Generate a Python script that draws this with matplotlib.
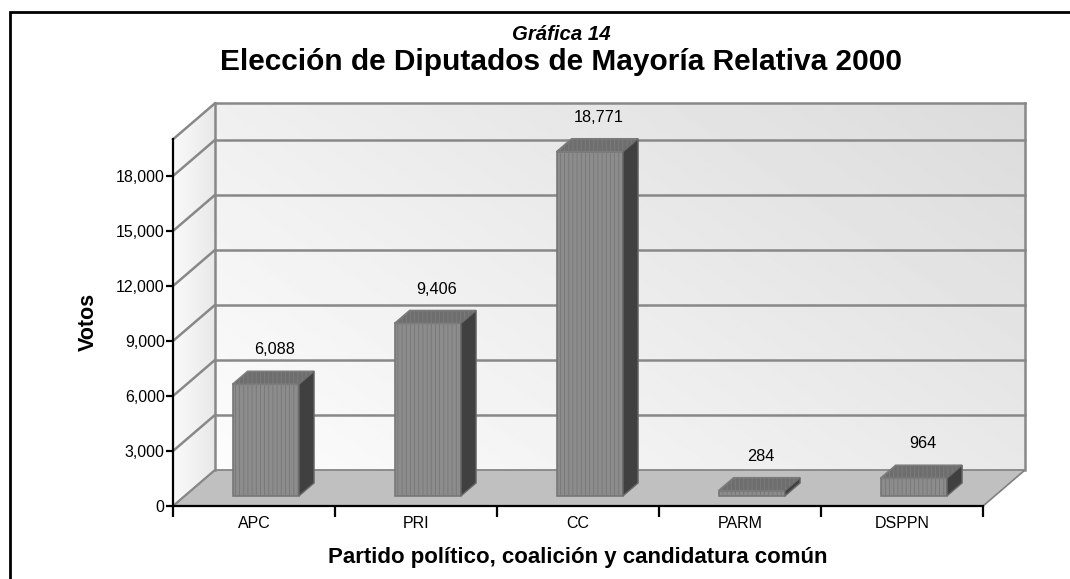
import matplotlib.pyplot as plt
import matplotlib.patches as mpatches
import numpy as np

plt.rcParams['font.family'] = ['Liberation Sans', 'DejaVu Sans']
plt.rcParams['hatch.linewidth'] = 0.6

partidos = ['APC', 'PRI', 'CC', 'PARM', 'DSPPN']
votos = [6088, 9406, 18771, 284, 964]
yticks = [0, 3000, 6000, 9000, 12000, 15000, 18000]
ymax = 20000

# fake 3d depth (in data units)
dx = 0.259
dy = 1964
d0, d1 = 0.28, 0.64   # bar front/back as fraction of depth
bw = 0.41             # bar width in categories

fig = plt.figure(figsize=(10.7, 5.79), dpi=100)
ax = fig.add_axes([173 / 1070, 73 / 579, 852 / 1070, (579 - 103.3 - 73) / 579])
n = len(partidos)
ax.set_xlim(0, n + dx)
ax.set_ylim(0, ymax + dy)

# back wall gradient
g = np.linspace(0, 1, 200)
gx, gy = np.meshgrid(g, g)
wall = 0.99 - 0.13 * (0.6 * gx + 0.4 * gy)
ax.imshow(wall, cmap='gray', vmin=0, vmax=1, extent=(dx, n + dx, ymax + dy, dy),
          aspect='auto', interpolation='bilinear', zorder=0)

# left wall
side = mpatches.Polygon([(0, 0), (dx, dy), (dx, ymax + dy), (0, ymax)], closed=True,
                        facecolor='none', edgecolor='none')
ax.add_patch(side)
im = ax.imshow(0.98 - 0.07 * gx, cmap='gray', vmin=0, vmax=1,
               extent=(0, dx, 0, ymax + dy), aspect='auto', interpolation='bilinear', zorder=0)
im.set_clip_path(side)

# floor
ax.add_patch(mpatches.Polygon([(0, 0), (n, 0), (n + dx, dy), (dx, dy)], closed=True,
                              facecolor='#c0c0c0', edgecolor='#808080', lw=1.2, zorder=1))

# gridlines
gc = '#888888'
for v in yticks[1:] + [ymax]:
    ax.plot([dx, n + dx], [v + dy, v + dy], color=gc, lw=1.8, zorder=1, clip_on=False)
    ax.plot([0, dx], [v, v + dy], color=gc, lw=1.8, zorder=1, clip_on=False)
ax.plot([dx, dx], [dy, ymax + dy], color=gc, lw=1.8, zorder=1, clip_on=False)
ax.plot([n + dx, n + dx], [dy, ymax + dy], color=gc, lw=1.8, zorder=1, clip_on=False)
ax.plot([0, dx], [0, dy], color=gc, lw=1.5, zorder=1)

# bars
for i, v in enumerate(votos):
    x0 = i + 0.5 - bw / 2 + d0 * dx
    y0 = d0 * dy
    ox = (d1 - d0) * dx
    oy = (d1 - d0) * dy
    front = mpatches.Rectangle((x0, y0), bw, v, facecolor='#8c8c8c', edgecolor='#777777',
                               hatch='||||', lw=1.2, zorder=3)
    ax.add_patch(front)
    top = mpatches.Polygon([(x0, y0 + v), (x0 + bw, y0 + v), (x0 + bw + ox, y0 + v + oy),
                            (x0 + ox, y0 + v + oy)], closed=True, facecolor='#6e6e6e',
                           edgecolor='#7c7c7c', hatch='||||', lw=1.2, zorder=3)
    ax.add_patch(top)
    right = mpatches.Polygon([(x0 + bw, y0), (x0 + bw + ox, y0 + oy), (x0 + bw + ox, y0 + v + oy),
                              (x0 + bw, y0 + v)], closed=True, facecolor='#404040',
                             edgecolor='#6a6a6a', lw=1.0, zorder=3)
    ax.add_patch(right)
    ax.annotate(f'{v:,}', (x0 + bw / 2 + ox * 0.6, y0 + v + oy), xytext=(0, 10),
                textcoords='offset points', ha='center', va='bottom', fontsize=11.7, zorder=5)

# axes
for s in ['top', 'right']:
    ax.spines[s].set_visible(False)
ax.spines['left'].set_bounds(0, ymax)
ax.spines['bottom'].set_bounds(0, n)
ax.spines['left'].set_linewidth(1.6)
ax.spines['bottom'].set_linewidth(1.6)
ax.set_yticks(yticks)
ax.set_yticklabels([f'{t:,}' for t in yticks], fontsize=11.5)
ax.set_xticks(range(n + 1))
ax.set_xticklabels([''] * (n + 1))
ax.set_xticks(np.arange(n) + 0.5, minor=True)
ax.set_xticklabels(partidos, minor=True, fontsize=11.5)
ax.tick_params(axis='y', length=5, width=1.6, pad=1)
ax.tick_params(axis='x', which='major', length=8, width=1.6)
ax.tick_params(axis='x', which='minor', length=0, pad=7)

fig.text(88 / 1070, 1 - 322 / 579, 'Votos', rotation=90, ha='center', va='center',
         fontsize=15.5, fontweight='bold')
fig.text(578 / 1070, 1 - 557 / 579, 'Partido político, coalición y candidatura común',
         ha='center', va='center', fontsize=16, fontweight='bold')
fig.text(561 / 1070, 1 - 35 / 579, 'Gráfica 14', ha='center', va='center',
         fontsize=14.7, fontweight='bold', fontstyle='italic')
fig.text(561 / 1070, 1 - 62.5 / 579, 'Elección de Diputados de Mayoría Relativa 2000',
         ha='center', va='center', fontsize=21.5, fontweight='bold')

fig.patches.append(mpatches.Rectangle((10 / 1070, -0.05), 1.1, (579 - 12) / 579 + 0.05,
                                      transform=fig.transFigure, fill=False,
                                      edgecolor='black', lw=2))

fig.savefig('out.png', dpi=100)
